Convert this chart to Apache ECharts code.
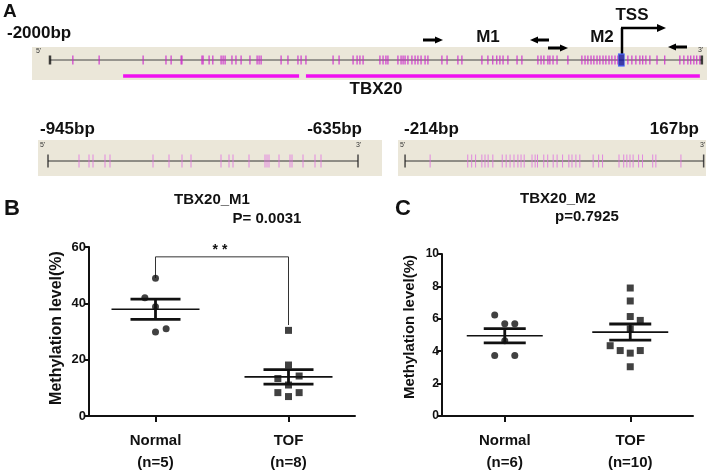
<!DOCTYPE html>
<html><head><meta charset="utf-8">
<script src="https://cdn.jsdelivr.net/npm/echarts@6/dist/echarts.min.js"></script>
<style>html,body{margin:0;padding:0;background:#fff}#c{width:709px;height:474px}</style>
</head><body><div id="c"></div>
<script>
// ---- Panel A data (bp positions) ----
const trackRange = [-2000, 282];
const mainCpG = [-1920,-1828,-1674,-1594,-1576,-1541,-1538,-1468,-1464,-1443,-1430,-1401,-1394,-1387,-1363,-1349,-1331,-1300,-1275,-1268,-1261,-1191,-1167,-1132,-1121,-1104,-1009,-988,-939,-925,-915,-904,-845,-834,-824,-817,-782,-771,-764,-757,-747,-733,-722,-712,-701,-687,-677,-628,-610,-572,-558,-488,-467,-450,-436,-425,-414,-397,-365,-348,-292,-281,-271,-257,-250,-239,-225,-187,-138,-127,-117,-106,-96,-85,-75,-64,-54,-43,-33,-22,-12,23,37,51,65,75,86,100,125,152,205,219,233,243,254,264,275];
const islands = [[-1744,-1128],[-1104,275]];
const tssPos = 0;
const m1Range = [-945, -635];
const m1CpG = [-914,-904,-900,-888,-883,-840,-824,-811,-802,-772,-764,-760,-744,-728,-726,-724,-714,-703,-701,-690,-678,-672];
const m2Range = [-214, 167];
const m2CpG = [-182,-134,-129,-124,-116,-112,-108,-102,-90,-85,-80,-75,-70,-66,-62,-52,-48,-45,-37,-32,-25,-20,-13,-5,-1,4,9,26,33,38,59,65,69,73,77,84,89,102,106,138];

// ---- Panel B data ----
const catsB = ['Normal\n(n=5)', 'TOF\n(n=8)'];
const normalB = [[0,48.9],[-0.08,42.0],[0,38.8],[0.08,31.0],[0,29.8]];
const tofB = [[1,30.4],[1,18.1],[0.92,13.3],[1.08,14.2],[1,11.0],[0.92,8.3],[1.08,8.3],[1,6.9]];
const meanSemB = [[0,37.9,3.6],[1,13.9,2.6]];
const bracketB = [[0,49],[0,56.5],[1,56.5],[1,32.3]];
const ticksB = [0,20,40,60];

// ---- Panel C data ----
const catsC = ['Normal\n(n=6)', 'TOF\n(n=10)'];
const normalC = [[-0.08,6.24],[0,5.70],[0.08,5.70],[0,4.64],[-0.08,3.74],[0.08,3.74]];
const tofC = [[1,7.9],[1,7.1],[1,6.14],[1.08,5.9],[1,5.38],[0.84,4.34],[0.92,4.04],[1,3.88],[1.08,4.04],[1,3.04]];
const meanSemC = [[0,4.95,0.44],[1,5.18,0.50]];
const ticksC = [0,2,4,6,8,10];

const FF = '"Liberation Sans", Arial, sans-serif';
const BEIGE = '#ebe7d9';
const INK = '#111';

function meanSem(meanHalf, whiskHalf) {
  return function (params, api) {
    const x = api.value(0), m = api.value(1), s = api.value(2);
    const c = api.coord([x, m]);
    const up = api.coord([x, m + s]);
    const lo = api.coord([x, m - s]);
    return {type: 'group', children: [
      {type: 'line', shape: {x1: c[0] - meanHalf, y1: c[1], x2: c[0] + meanHalf, y2: c[1]}, style: {stroke: INK, lineWidth: 1.6}},
      {type: 'line', shape: {x1: up[0] - whiskHalf, y1: up[1], x2: up[0] + whiskHalf, y2: up[1]}, style: {stroke: INK, lineWidth: 2.8}},
      {type: 'line', shape: {x1: lo[0] - whiskHalf, y1: lo[1], x2: lo[0] + whiskHalf, y2: lo[1]}, style: {stroke: INK, lineWidth: 2.8}},
      {type: 'line', shape: {x1: c[0], y1: up[1], x2: c[0], y2: lo[1]}, style: {stroke: INK, lineWidth: 2.8}}
    ]};
  };
}

function arrow(x1, x2, y, lw, hl, hh) {
  const d = Math.sign(x2 - x1);
  return [
    {type: 'line', shape: {x1: x1, y1: y, x2: x2 - d * hl, y2: y}, style: {stroke: '#000', lineWidth: lw}},
    {type: 'polygon', shape: {points: [[x2, y], [x2 - d * hl, y - hh], [x2 - d * hl, y + hh]]}, style: {fill: '#000'}}
  ];
}
function txt(x, y, s, size, align, extra) {
  return Object.assign({type: 'text', x: x, y: y, style: {text: s, font: 'bold ' + size + 'px ' + FF, fill: INK, align: align || 'center', verticalAlign: 'middle'}}, extra || {});
}
function small(x, y, s) {
  return {type: 'text', x: x, y: y, style: {text: s, font: '7px ' + FF, fill: '#333', align: 'left', verticalAlign: 'middle'}};
}

const valAxisCommon = {type: 'value', show: false, splitLine: {show: false}, axisLine: {onZero: false}};

const catAxis = (gi, cats) => ({
  type: 'category', gridIndex: gi, data: cats,
  axisLine: {show: true, onZero: false, lineStyle: {color: INK, width: 2}},
  axisTick: {show: true, alignWithLabel: true, length: 6, lineStyle: {color: INK, width: 2}},
  axisLabel: {color: INK, fontFamily: FF, fontWeight: 'bold', fontSize: 15, lineHeight: 22, margin: 14},
  splitLine: {show: false}
});
const yAxisVis = (gi, max, interval, fs) => ({
  type: 'value', gridIndex: gi, min: 0, max: max, interval: interval,
  axisLine: {show: true, onZero: false, lineStyle: {color: INK, width: 2}},
  axisTick: {show: true, length: 5, lineStyle: {color: INK, width: 2}},
  axisLabel: {color: INK, fontFamily: FF, fontWeight: 'bold', fontSize: fs, margin: 3},
  splitLine: {show: false}
});

const option = {
  animation: false,
  backgroundColor: '#fff',
  grid: [
    {left: 32, top: 47, width: 675, height: 33, show: true, backgroundColor: BEIGE, borderWidth: 0},
    {left: 38, top: 140, width: 344, height: 36, show: true, backgroundColor: BEIGE, borderWidth: 0},
    {left: 398, top: 140, width: 308, height: 36, show: true, backgroundColor: BEIGE, borderWidth: 0},
    {left: 89, top: 247, width: 266, height: 173},
    {left: 442, top: 254, width: 251, height: 167}
  ],
  xAxis: [
    Object.assign({gridIndex: 0, min: -2063, max: 300}, valAxisCommon),
    Object.assign({gridIndex: 1, min: -955, max: -611}, valAxisCommon),
    Object.assign({gridIndex: 2, min: -223, max: 170}, valAxisCommon),
    catAxis(3, catsB),
    Object.assign({gridIndex: 3, min: -0.5, max: 1.5}, valAxisCommon),
    catAxis(4, catsC),
    Object.assign({gridIndex: 4, min: -0.5, max: 1.5}, valAxisCommon)
  ],
  yAxis: [
    Object.assign({gridIndex: 0, min: -20, max: 13}, valAxisCommon),
    Object.assign({gridIndex: 1, min: -15, max: 21}, valAxisCommon),
    Object.assign({gridIndex: 2, min: -15, max: 21}, valAxisCommon),
    yAxisVis(3, ticksB[ticksB.length - 1], ticksB[1] - ticksB[0], 13),
    yAxisVis(4, ticksC[ticksC.length - 1], ticksC[1] - ticksC[0], 12)
  ],
  series: [
    // Panel A main track
    {type: 'line', xAxisIndex: 0, yAxisIndex: 0, data: [[trackRange[0], 0], [trackRange[1], 0]], symbol: 'none', lineStyle: {color: '#444', width: 1}, z: 2},
    {type: 'scatter', xAxisIndex: 0, yAxisIndex: 0, data: mainCpG.map(v => [v, 0]), symbol: 'rect', symbolSize: [1.3, 9], itemStyle: {color: '#cc22cc'}, z: 3},
    {type: 'scatter', xAxisIndex: 0, yAxisIndex: 0, data: trackRange.map(v => [v, 0]), symbol: 'rect', symbolSize: [2.5, 9], itemStyle: {color: '#111'}, z: 4},
    {type: 'scatter', xAxisIndex: 0, yAxisIndex: 0, data: [[tssPos, 0]], symbol: 'rect', symbolSize: [6, 12], itemStyle: {color: '#10109a', borderColor: '#4a6cff', borderWidth: 1}, z: 5},
    ...islands.map(r => ({type: 'line', xAxisIndex: 0, yAxisIndex: 0, data: [[r[0], -16], [r[1], -16]], symbol: 'none', lineStyle: {color: '#f010f0', width: 3.5}, z: 3})),
    // M1 panel
    {type: 'line', xAxisIndex: 1, yAxisIndex: 1, data: [[m1Range[0], 0], [m1Range[1], 0]], symbol: 'none', lineStyle: {color: '#333', width: 1}, z: 2},
    {type: 'scatter', xAxisIndex: 1, yAxisIndex: 1, data: m1CpG.map(v => [v, 0]), symbol: 'rect', symbolSize: [1, 13], itemStyle: {color: '#e070e0'}, z: 3},
    {type: 'scatter', xAxisIndex: 1, yAxisIndex: 1, data: m1Range.map(v => [v, 0]), symbol: 'rect', symbolSize: [1.5, 13], itemStyle: {color: '#222'}, z: 4},
    // M2 panel
    {type: 'line', xAxisIndex: 2, yAxisIndex: 2, data: [[m2Range[0], 0], [m2Range[1], 0]], symbol: 'none', lineStyle: {color: '#333', width: 1}, z: 2},
    {type: 'scatter', xAxisIndex: 2, yAxisIndex: 2, data: m2CpG.map(v => [v, 0]), symbol: 'rect', symbolSize: [1, 13], itemStyle: {color: '#e070e0'}, z: 3},
    {type: 'scatter', xAxisIndex: 2, yAxisIndex: 2, data: m2Range.map(v => [v, 0]), symbol: 'rect', symbolSize: [1.5, 13], itemStyle: {color: '#222'}, z: 4},
    // Panel B
    {type: 'line', xAxisIndex: 4, yAxisIndex: 3, data: bracketB, symbol: 'none', lineStyle: {color: '#333', width: 1}, z: 2},
    {type: 'scatter', xAxisIndex: 4, yAxisIndex: 3, data: normalB, symbol: 'circle', symbolSize: 7, itemStyle: {color: INK}, z: 4},
    {type: 'scatter', xAxisIndex: 4, yAxisIndex: 3, data: tofB, symbol: 'rect', symbolSize: 7, itemStyle: {color: INK}, z: 4},
    {type: 'custom', xAxisIndex: 4, yAxisIndex: 3, data: meanSemB, renderItem: meanSem(44, 25), z: 5},
    // Panel C
    {type: 'scatter', xAxisIndex: 6, yAxisIndex: 4, data: normalC, symbol: 'circle', symbolSize: 7, itemStyle: {color: INK}, z: 4},
    {type: 'scatter', xAxisIndex: 6, yAxisIndex: 4, data: tofC, symbol: 'rect', symbolSize: 7, itemStyle: {color: INK}, z: 4},
    {type: 'custom', xAxisIndex: 6, yAxisIndex: 4, data: meanSemC, renderItem: meanSem(38, 21), z: 5}
  ],
  graphic: [
    txt(3, 12, 'A', 19, 'left'),
    txt(7, 33, '-2000bp', 17, 'left'),
    txt(488, 37, 'M1', 17),
    txt(602, 37, 'M2', 17),
    txt(632, 15, 'TSS', 17),
    txt(376, 89, 'TBX20', 17),
    ...arrow(423, 443, 40, 3, 8, 3.5),
    ...arrow(549, 530, 40, 3, 8, 3.5),
    ...arrow(548, 568, 48, 3, 8, 3.5),
    ...arrow(687, 668, 47, 3, 8, 3.5),
    {type: 'line', shape: {x1: 622, y1: 54, x2: 622, y2: 28}, style: {stroke: '#000', lineWidth: 2.5}},
    ...arrow(621, 666, 28, 2.5, 9, 4),
    small(36, 51, "5'"),
    small(698, 50, "3'"),
    txt(40, 129, '-945bp', 17, 'left'),
    txt(362, 129, '-635bp', 17, 'right'),
    txt(404, 129, '-214bp', 17, 'left'),
    txt(699, 129, '167bp', 17, 'right'),
    small(40, 145, "5'"),
    small(356, 145, "3'"),
    small(400, 145, "5'"),
    small(700, 145, "3'"),
    txt(4, 209, 'B', 22, 'left'),
    txt(212, 200, 'TBX20_M1', 15),
    txt(267, 219, 'P= 0.0031', 15),
    txt(220, 250, '* *', 14),
    {type: 'text', x: 57, y: 328, rotation: Math.PI / 2, style: {text: 'Methylation level(%)', font: 'bold 16px ' + FF, fill: INK, align: 'center', verticalAlign: 'middle'}},
    txt(395, 209, 'C', 22, 'left'),
    txt(558, 199, 'TBX20_M2', 15),
    txt(587, 217, 'p=0.7925', 15),
    {type: 'text', x: 410, y: 327, rotation: Math.PI / 2, style: {text: 'Methylation level(%)', font: 'bold 15px ' + FF, fill: INK, align: 'center', verticalAlign: 'middle'}}
  ]
};
const chart = echarts.init(document.getElementById('c'), null, {renderer: 'canvas'});
chart.setOption(option);
</script>
</body></html>
